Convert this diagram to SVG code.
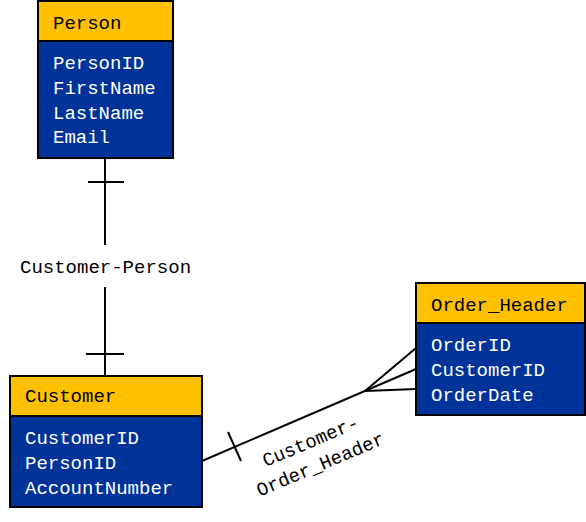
<svg xmlns="http://www.w3.org/2000/svg" width="586" height="522" viewBox="0 0 586 522">
<style>
.hdr{fill:#FFC000;stroke:#000;stroke-width:2}
.body{fill:#003399;stroke:#000;stroke-width:2}
.t{font-family:"Liberation Mono","DejaVu Sans Mono",monospace;font-size:19px}
.ht{fill:#000}
.bt{fill:#fff}
.ln{stroke:#000;stroke-width:2;fill:none}
.lbl{fill:#000}
</style>
<rect width="586" height="522" fill="#fff"/>
<g id="connectors">
<line class="ln" x1="105" y1="158" x2="105" y2="245"/>
<line class="ln" x1="88" y1="182" x2="124" y2="182"/>
<line class="ln" x1="105" y1="287" x2="105" y2="376"/>
<line class="ln" x1="86" y1="354" x2="124" y2="354"/>
<text class="t lbl" x="20" y="273">Customer-Person</text>
<line class="ln" x1="202" y1="461" x2="416" y2="369"/>
<line class="ln" x1="365" y1="391" x2="416" y2="348"/>
<line class="ln" x1="365" y1="391" x2="416" y2="389"/>
<line class="ln" x1="228" y1="432" x2="241" y2="461"/>
<text class="t lbl" transform="rotate(-23 313 447)" x="313" y="447" text-anchor="middle">Customer-<tspan x="313" dy="25">Order_Header</tspan></text>
</g>
<g id="person">
<rect class="body" x="38" y="41" width="135" height="117"/>
<rect class="hdr" x="38" y="1" width="135" height="40"/>
<text class="t ht" x="53" y="29">Person</text>
<text class="t bt" x="53" y="69">PersonID</text>
<text class="t bt" x="53" y="94">FirstName</text>
<text class="t bt" x="53" y="119">LastName</text>
<text class="t bt" x="53" y="143">Email</text>
</g>
<g id="customer">
<rect class="body" x="10" y="416" width="192" height="91"/>
<rect class="hdr" x="10" y="376" width="192" height="40"/>
<text class="t ht" x="25" y="402">Customer</text>
<text class="t bt" x="25" y="444">CustomerID</text>
<text class="t bt" x="25" y="469">PersonID</text>
<text class="t bt" x="25" y="494">AccountNumber</text>
</g>
<g id="order_header">
<rect class="body" x="416" y="323" width="169" height="92"/>
<rect class="hdr" x="416" y="283" width="169" height="40"/>
<text class="t ht" x="431" y="311">Order_Header</text>
<text class="t bt" x="431" y="351">OrderID</text>
<text class="t bt" x="431" y="376">CustomerID</text>
<text class="t bt" x="431" y="401">OrderDate</text>
</g>
</svg>
